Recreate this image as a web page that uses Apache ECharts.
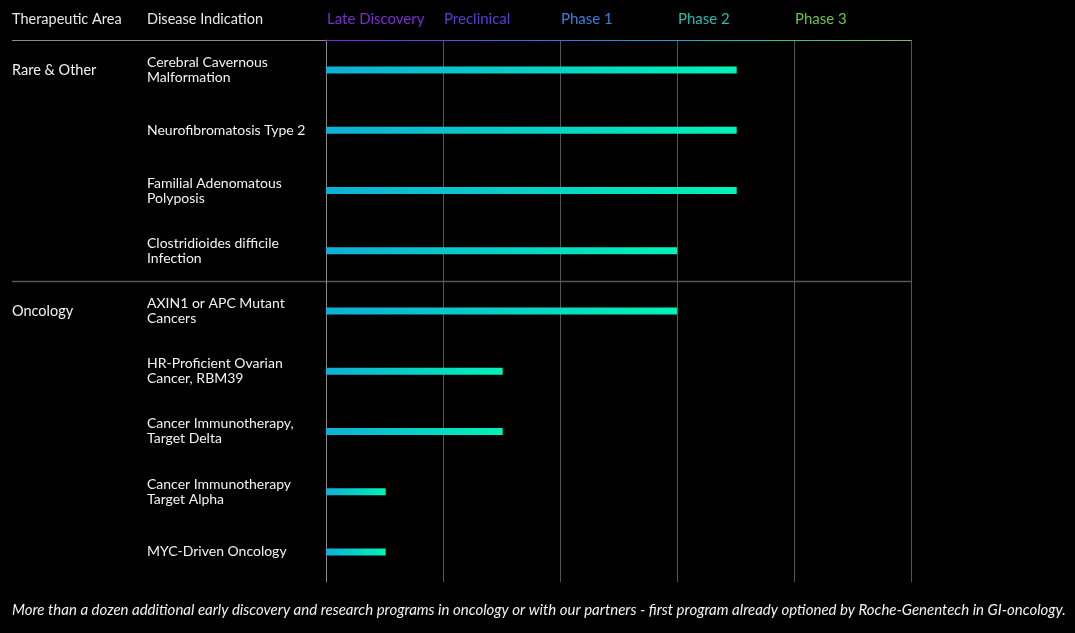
<!DOCTYPE html>
<html><head><meta charset="utf-8">
<script src="https://cdn.jsdelivr.net/npm/echarts@6/dist/echarts.min.js"></script>
<style>html,body{margin:0;padding:0;background:#000;}#c{width:1075px;height:633px;}</style>
</head><body><div id="c"></div>
<script>
const indications = ['Cerebral Cavernous\nMalformation','Neurofibromatosis Type 2','Familial Adenomatous\nPolyposis','Clostridioides difficile\nInfection','AXIN1 or APC Mutant\nCancers','HR-Proficient Ovarian\nCancer, RBM39','Cancer Immunotherapy,\nTarget Delta','Cancer Immunotherapy\nTarget Alpha','MYC-Driven Oncology'];
const areas = ['Rare & Other','','','','Oncology','','','',''];
const progress = [3.51,3.51,3.51,3.0,3.0,1.51,1.51,0.51,0.51];
const phases = ['Late Discovery','Preclinical','Phase 1','Phase 2','Phase 3'];
const phaseColors = ['#7b2fce','#5b3bd2','#3b7fd6','#25bdb0','#6cc04a'];
const footnote = 'More than a dozen additional early discovery and research programs in oncology or with our partners - first program already optioned by Roche-Genentech in GI-oncology.';

const FONT = 'Lato';
const chart = echarts.init(document.getElementById('c'), null, {renderer:'canvas'});
const rich = {};
phases.forEach((p,i)=>{ rich['p'+i] = {color: phaseColors[i], fontSize: 15, fontFamily: FONT}; });

const option = {
  backgroundColor: '#000',
  animation: false,
  grid: {left: 326, right: 164, top: 40, bottom: 51},
  xAxis: [
    {type:'value', min:0, max:5, interval:1, position:'bottom',
     axisLine:{show:false}, axisTick:{show:false}, axisLabel:{show:false},
     splitLine:{show:true, lineStyle:{color:'#555', width:1}}},
    {type:'value', min:0, max:5, interval:1, position:'top',
     axisLine:{show:true, lineStyle:{width:1, color:{type:'linear',x:0,y:0,x2:1,y2:0,colorStops:[
        {offset:0,color:'#7a2ad0'},{offset:0.3,color:'#4b5fd8'},{offset:0.5,color:'#3a86d6'},{offset:0.72,color:'#2ab5b0'},{offset:1,color:'#7cc35a'}]}}},
     axisTick:{show:false}, splitLine:{show:false},
     axisLabel:{show:true, align:'left', margin:13, padding:[0,0,0,1],
       formatter:(v)=>{ const i=Math.round(v); return i<phases.length ? '{p'+i+'|'+phases[i]+'}' : ''; },
       rich: rich}}
  ],
  yAxis: [
    {type:'category', data: indications, inverse:true,
     axisLine:{show:true, lineStyle:{color:'#8a8a8a'}}, axisTick:{show:false},
     axisLabel:{align:'left', margin:179, color:'#f2f2f2', fontSize:14, fontFamily:FONT, lineHeight:15}},
    {type:'category', data: areas, inverse:true, position:'left',
     axisLine:{show:false}, axisTick:{show:false}, splitLine:{show:false},
     axisLabel:{align:'left', margin:314, color:'#f2f2f2', fontSize:14.5, fontFamily:FONT, padding:[0,0,14,0]}}
  ],
  series: [{
    type:'bar', data: progress, barWidth:7, xAxisIndex:0, yAxisIndex:0,
    itemStyle:{color:{type:'linear',x:0,y:0,x2:1,y2:0,colorStops:[{offset:0,color:'#0fb0d6'},{offset:1,color:'#00f3b6'}]}}
  }]
};
chart.setOption(option);

const step = chart.convertToPixel({yAxisIndex:0},1)-chart.convertToPixel({yAxisIndex:0},0);
const yTop = chart.convertToPixel({yAxisIndex:0}, 0) - step/2;
const ySep = chart.convertToPixel({yAxisIndex:0}, 3) + step/2;
const x0 = chart.convertToPixel({xAxisIndex:0}, 0);
const x5 = chart.convertToPixel({xAxisIndex:0}, 5);

chart.setOption({
  graphic: [
    {type:'line', shape:{x1:12, y1:Math.round(yTop)+0.5, x2:x0, y2:Math.round(yTop)+0.5}, style:{stroke:'#8a8a8a', lineWidth:1}},
    {type:'line', shape:{x1:12, y1:Math.round(ySep)+0.5, x2:x5, y2:Math.round(ySep)+0.5}, style:{stroke:'#555', lineWidth:1.5}},
    {type:'text', left:12, top:12, style:{text:'Therapeutic Area', fill:'#e8e8e8', font:'14.5px '+FONT}},
    {type:'text', left:147, top:12, style:{text:'Disease Indication', fill:'#e8e8e8', font:'14.5px '+FONT}},
    {type:'text', left:12, top:603, style:{text:footnote, fill:'#f2f2f2', font:'italic 15px '+FONT}}
  ]
});
</script>
</body></html>
